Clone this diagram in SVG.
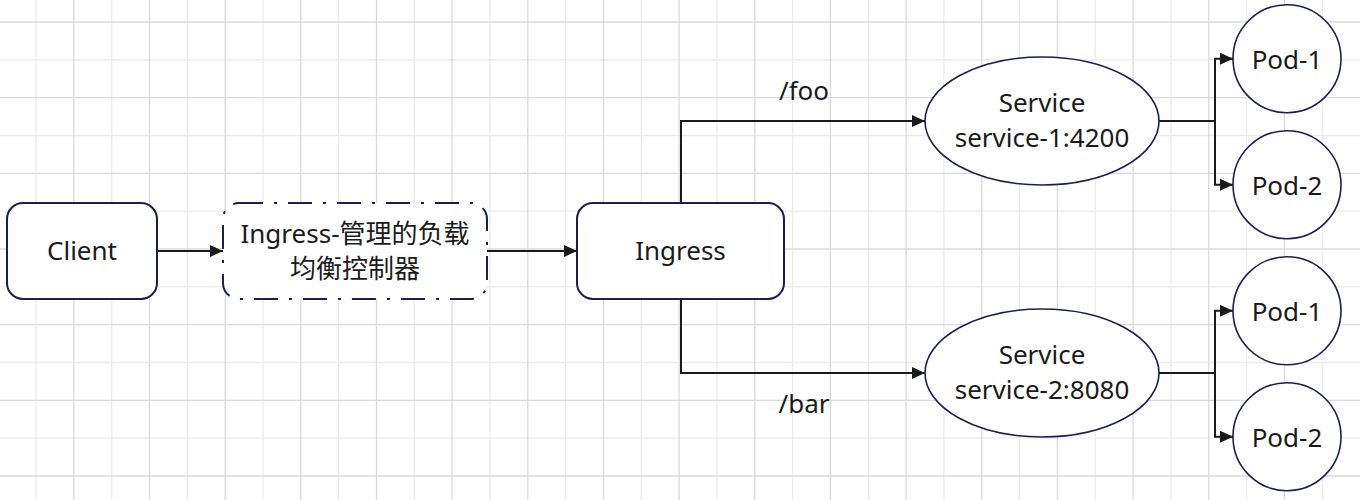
<svg xmlns="http://www.w3.org/2000/svg" width="1360" height="500" viewBox="0 0 1360 500">
<defs>
<style>
.gl{stroke:#ececec;stroke-width:1.3;fill:none}
.gd{stroke:#dadada;stroke-width:1.3;fill:none}
.box{fill:#ffffff;stroke:#1b1f4e;stroke-width:2}
.dash{fill:#ffffff;stroke:#1b1f4e;stroke-width:2;stroke-dasharray:24 11 3 11}
.ell{fill:#ffffff;stroke:#1b1f4e;stroke-width:1.6}
.edge{fill:none;stroke:#1a1a1a;stroke-width:2}
text{font-family:"Noto Sans","Noto Sans CJK SC",sans-serif;font-size:26px;fill:#1a1a1a;text-anchor:middle}
</style>
<marker id="arr" viewBox="0 0 13 12" refX="13" refY="6" markerWidth="13" markerHeight="12" markerUnits="userSpaceOnUse" orient="auto">
<path d="M0,0 L13,6 L0,12 z" fill="#1a1a1a"/>
</marker>
</defs>
<rect width="1360" height="500" fill="#ffffff"/>
<g id="grid">
<path class="gl" d="M36,0V500M111.7,0V500M187.3,0V500M263,0V500M338.6,0V500M414.3,0V500M490,0V500M565.6,0V500M641.3,0V500M716.9,0V500M792.6,0V500M868.3,0V500M943.9,0V500M1019.6,0V500M1095.2,0V500M1170.9,0V500M1246.6,0V500M1322.2,0V500M0,59.8H1360M0,135.5H1360M0,211.2H1360M0,286.8H1360M0,362.5H1360M0,438.1H1360"/>
<path class="gd" d="M73.8,0V500M149.5,0V500M225.2,0V500M300.8,0V500M376.5,0V500M452.1,0V500M527.8,0V500M603.5,0V500M679.1,0V500M754.8,0V500M830.4,0V500M906.1,0V500M981.8,0V500M1057.4,0V500M1133.1,0V500M1208.7,0V500M1284.4,0V500M0,22H1360M0,97.7H1360M0,173.3H1360M0,249H1360M0,324.6H1360M0,400.3H1360M0,476H1360"/>
</g>
<g id="connectors">
<path class="edge" d="M157,251H223" marker-end="url(#arr)"/>
<path class="edge" d="M487,251H577" marker-end="url(#arr)"/>
<path class="edge" d="M681,203V121H925" marker-end="url(#arr)"/>
<path class="edge" d="M681,299V373H925" marker-end="url(#arr)"/>
<path class="edge" d="M1159,121H1215V58.7H1233" marker-end="url(#arr)"/>
<path class="edge" d="M1215,121V184.7H1233" marker-end="url(#arr)"/>
<path class="edge" d="M1159,373H1215V310.8H1233" marker-end="url(#arr)"/>
<path class="edge" d="M1215,373V436.7H1233" marker-end="url(#arr)"/>
<text x="804" y="100">/foo</text>
<text x="804" y="413">/bar</text>
</g>
<g id="client">
<rect class="box" x="7" y="203" width="150" height="96" rx="16"/>
<text x="82" y="260">Client</text>
</g>
<g id="lb">
<rect class="dash" x="223" y="203" width="264" height="96" rx="16"/>
<text x="355" y="243">Ingress-管理的负载</text>
<text x="355" y="278">均衡控制器</text>
</g>
<g id="ingress">
<rect class="box" x="577" y="203" width="207" height="96" rx="16"/>
<text x="680.5" y="260">Ingress</text>
</g>
<g id="svc1">
<ellipse class="ell" cx="1042" cy="121" rx="117" ry="64"/>
<text x="1042" y="112">Service</text>
<text x="1042" y="147">service-1:4200</text>
</g>
<g id="svc2">
<ellipse class="ell" cx="1042" cy="373" rx="117" ry="64"/>
<text x="1042" y="364">Service</text>
<text x="1042" y="399">service-2:8080</text>
</g>
<g id="pod1a">
<circle class="ell" cx="1287" cy="58.7" r="54"/>
<text x="1287" y="68.5">Pod-1</text>
</g>
<g id="pod2a">
<circle class="ell" cx="1287" cy="184.7" r="54"/>
<text x="1287" y="194.5">Pod-2</text>
</g>
<g id="pod1b">
<circle class="ell" cx="1287" cy="310.8" r="54"/>
<text x="1287" y="320.6">Pod-1</text>
</g>
<g id="pod2b">
<circle class="ell" cx="1287" cy="436.7" r="54"/>
<text x="1287" y="446.5">Pod-2</text>
</g>
</svg>
